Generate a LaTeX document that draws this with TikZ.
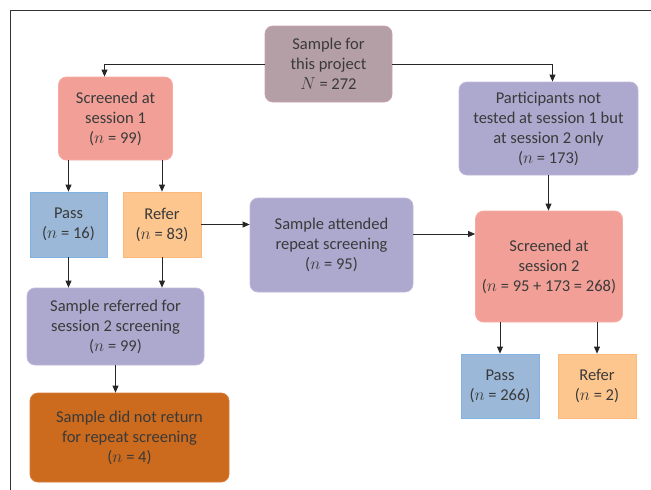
\documentclass[tikz,border=0pt]{standalone}
\usepackage{fontspec}
\setmainfont{Carlito}
\usetikzlibrary{arrows.meta}
\definecolor{txt}{HTML}{3A3A3A}
\definecolor{mauveF}{HTML}{B49FA6}\definecolor{mauveD}{HTML}{C9A3AD}
\definecolor{salF}{HTML}{F2A097}\definecolor{salD}{HTML}{F6ACA3}
\definecolor{purF}{HTML}{ADA8CE}\definecolor{purD}{HTML}{C3B8DB}
\definecolor{bluF}{HTML}{9BB8D8}\definecolor{bluD}{HTML}{7EB3E2}
\definecolor{oraF}{HTML}{FDC68E}\definecolor{oraD}{HTML}{FBB97C}
\definecolor{dorF}{HTML}{CC6A1D}\definecolor{dorD}{HTML}{D97C3C}
\tikzset{
  box/.style={draw, line width=0.8pt, align=center, inner sep=0pt, text=txt,
    font=\fontsize{16.5}{20}\selectfont, anchor=center},
  rbox/.style={box, rounded corners=8pt},
  arr/.style={line width=0.8pt, draw=black!85, -{Triangle[length=7pt,width=6pt]}},
}
\newcommand{\nn}{$n$}
\begin{document}
\begin{tikzpicture}[x=1pt,y=1pt]
\useasboundingbox (0,0) rectangle (651,-490);
\draw[line width=0.9pt, black!80] (651,-10) -- (10,-10) -- (10,-490);

\node[rbox, fill=mauveF, draw=mauveD, minimum width=127, minimum height=76] (sample) at (328.5,-64) {Sample for\\this project\\$N$ = 272};
\node[rbox, fill=salF, draw=salD, minimum width=114, minimum height=83] (s1) at (115.5,-118.5) {Screened at\\session 1\\(\nn{} = 99)};
\node[rbox, fill=purF, draw=purD, minimum width=179, minimum height=93] (part) at (548.5,-128.5) {Participants not\\tested at session 1 but\\at session 2 only\\(\nn{} = 173)};
\node[box, fill=bluF, draw=bluD, minimum width=77, minimum height=65] (pass1) at (68.5,-224.5) {Pass\\(\nn{} = 16)};
\node[box, fill=oraF, draw=oraD, minimum width=78, minimum height=65] (refer1) at (162,-224.5) {Refer\\(\nn{} = 83)};
\node[rbox, fill=purF, draw=purD, minimum width=163, minimum height=94] (att) at (331.5,-245) {Sample attended\\repeat screening\\(\nn{} = 95)};
\node[rbox, fill=salF, draw=salD, minimum width=147, minimum height=111] (s2) at (549,-266.5) {Screened at\\session 2\\(\nn{} = 95 + 173 = 268)};
\node[rbox, fill=purF, draw=purD, minimum width=177, minimum height=77] (ref2) at (115.5,-326.5) {Sample referred for\\session 2 screening\\(\nn{} = 99)};
\node[rbox, fill=dorF, draw=dorD, minimum width=199, minimum height=89] (dnr) at (129.5,-437.5) {Sample did not return\\for repeat screening\\(\nn{} = 4)};
\node[box, fill=bluF, draw=bluD, minimum width=78, minimum height=64] (pass2) at (500,-386) {Pass\\(\nn{} = 266)};
\node[box, fill=oraF, draw=oraD, minimum width=78, minimum height=64] (refer2) at (597,-386) {Refer\\(\nn{} = 2)};

\draw[arr] (sample.west) -| ([xshift=-11pt]s1.north);
\draw[arr] (sample.east) -| ([xshift=4pt]part.north);
\draw[arr] (pass1.north |- s1.south) -- (pass1.north);
\draw[arr] (refer1.north |- s1.south) -- (refer1.north);
\draw[arr] (pass1.south) -- (pass1.south |- ref2.north);
\draw[arr] (refer1.south) -- (refer1.south |- ref2.north);
\draw[arr] (refer1.east) -- (refer1.east -| att.west);
\draw[arr] ([yshift=11pt]att.east) -- ([yshift=11pt]att.east -| s2.west);
\draw[arr] (part.south) -- (part.south |- s2.north);
\draw[arr] (pass2.north |- s2.south) -- (pass2.north);
\draw[arr] (refer2.north |- s2.south) -- (refer2.north);
\draw[arr] (ref2.south) -- (ref2.south |- dnr.north);
\end{tikzpicture}
\end{document}
